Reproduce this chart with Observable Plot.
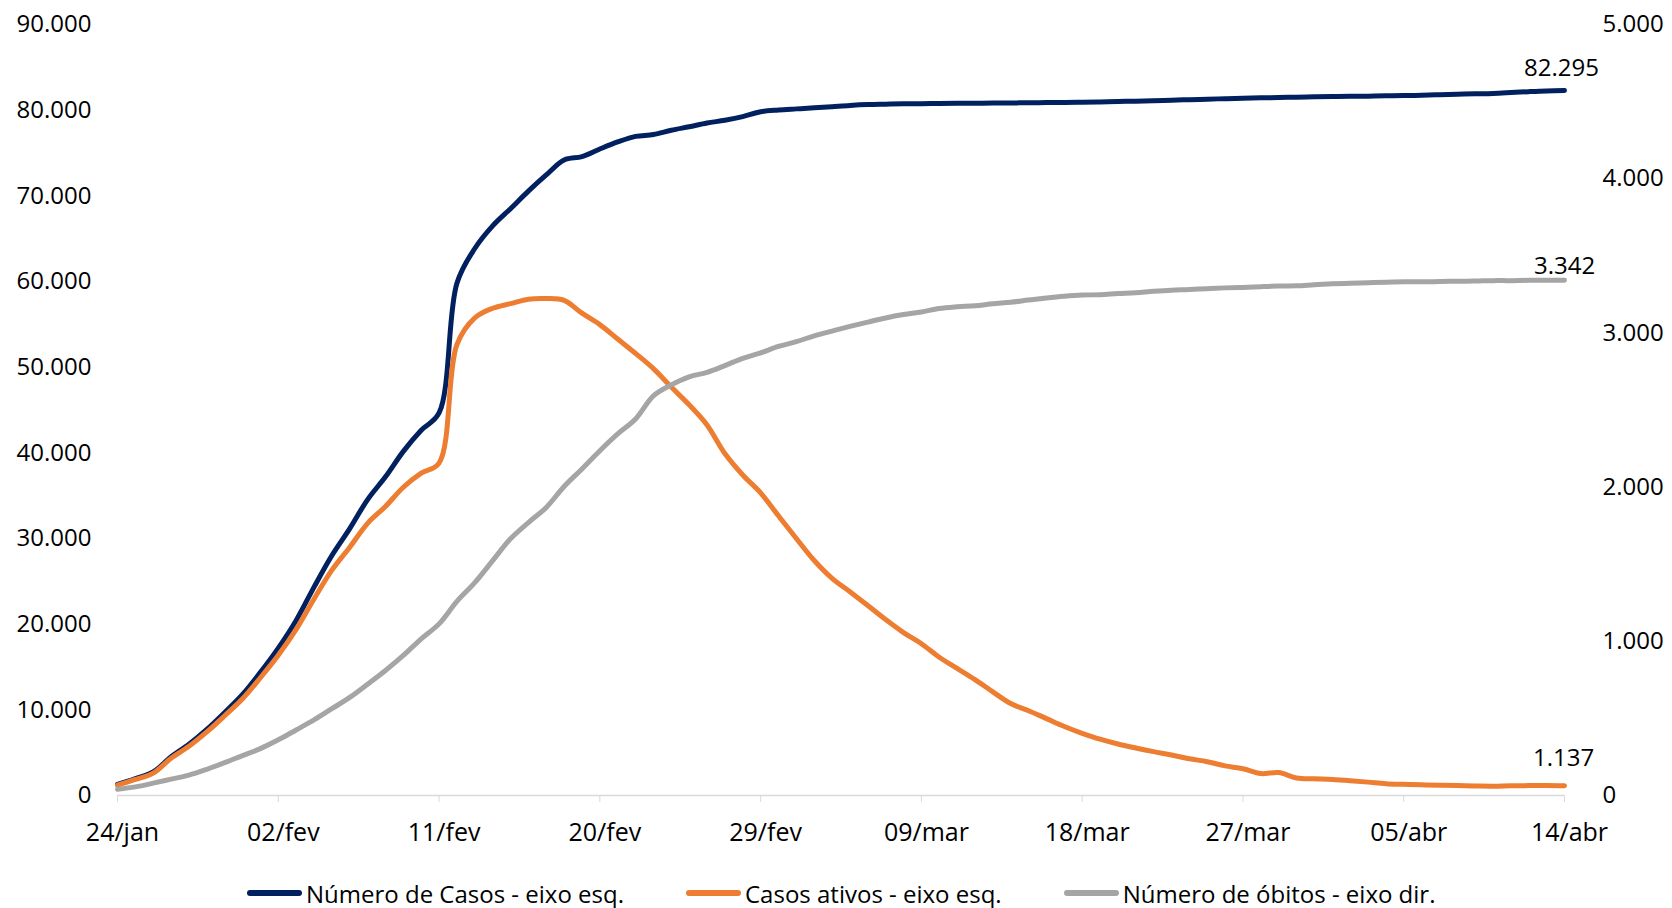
<!DOCTYPE html>
<html>
<head>
<meta charset="utf-8">
<script src="https://cdn.jsdelivr.net/npm/d3@7"></script>
<script src="https://cdn.jsdelivr.net/npm/@observablehq/plot@0.6"></script>
<style>
  body { margin: 0; background: #fff; font-family: "Open Sans", sans-serif; }
  #legend { display: flex; align-items: center; height: 30px; margin-top: 18px; padding-left: 247px; gap: 62px; font-size: 24px; color: #000; }
  .item { display: flex; align-items: center; }
  .sw { width: 55px; height: 6px; border-radius: 3px; margin-right: 4px; }
</style>
</head>
<body>
<div id="chart"></div>
<div id="legend"></div>
<script>
// ---- Data (China, 24/jan – 14/abr) ----
const startDate = "2020-01-24";
const cases = [
  1287,1975,2744,4515,5974,7711,9692,11791,
  14380,17205,20438,24324,28018,31161,34546,37198,40171,42638,44653,59804,63851,66492,68500,70548,72436,74185,74576,75465,76288,76936,77150,77658,78064,78497,78824,79251,79824,
  80026,80151,80270,80409,80552,80651,80695,80735,80754,80778,80793,80813,80824,80844,80860,80881,80894,80928,80967,81008,81054,81093,81171,81218,81285,81340,81394,81439,81470,81518,81554,
  81589,81620,81639,81669,81708,81740,81802,81865,81907,81953,82052,82160,82249,82295
];
const active = [
  1208,1870,2613,4349,5739,7417,9308,11289,
  13748,16369,19381,22942,26302,28985,31774,33738,35982,37626,38800,52634,55748,56873,57416,57934,58016,57805,56303,54965,53284,51606,49824,47672,45604,43258,39919,37414,35329,
  32652,30004,27433,25352,23784,22177,20533,19016,17721,16145,14831,13526,12094,10734,9898,8976,8056,7263,6569,6013,5549,5120,4735,4287,3947,3460,3128,2560,2680,2050,1950,
  1863,1727,1562,1376,1299,1242,1190,1160,1116,1089,1138,1156,1170,1137
];
const deaths = [
  41,56,80,106,132,170,213,259,
  304,361,425,490,563,636,722,811,908,1016,1113,1259,1380,1523,1665,1770,1868,2004,2118,2236,2345,2442,2592,2663,2715,2744,2788,2835,2870,
  2912,2943,2981,3012,3042,3070,3097,3119,3136,3158,3169,3176,3189,3199,3213,3226,3237,3245,3248,3255,3261,3270,3277,3281,3287,3292,3295,3300,3304,3305,3312,
  3318,3322,3326,3329,3331,3331,3333,3335,3336,3339,3339,3341,3341,3342
];
const tickDates = ["2020-01-24","2020-02-02","2020-02-11","2020-02-20","2020-02-29","2020-03-09","2020-03-18","2020-03-27","2020-04-05","2020-04-14"];
const tickLabels = ["24/jan","02/fev","11/fev","20/fev","29/fev","09/mar","18/mar","27/mar","05/abr","14/abr"];
const leftTicks = [0,10000,20000,30000,40000,50000,60000,70000,80000,90000];
const rightTicks = [0,1000,2000,3000,4000,5000];
const seriesNames = ["Número de Casos - eixo esq.","Casos ativos - eixo esq.","Número de óbitos - eixo dir."];
const seriesColors = ["#002060","#ED7D31","#A5A5A5"];

// ---- Build ----
const ratio = 90000 / 5000; // right axis -> left axis
const fmt = d3.formatLocale({decimal: ",", thousands: ".", grouping: [3], currency: ["", ""]}).format(",d");
const start = new Date(startDate + "T00:00:00Z");
const dates = cases.map((_, i) => d3.utcDay.offset(start, i));
const rows = dates.map((d, i) => ({date: d, cases: cases[i], active: active[i], deathsScaled: deaths[i] * ratio, deaths: deaths[i]}));
const last = rows[rows.length - 1];
const tDates = tickDates.map(s => new Date(s + "T00:00:00Z"));
const labelOf = new Map(tDates.map((d, i) => [+d, tickLabels[i]]));

const chart = Plot.plot({
  width: 1672,
  height: 860,
  marginLeft: 117,
  marginRight: 108,
  marginTop: 24,
  marginBottom: 65,
  style: {fontFamily: "Open Sans, sans-serif", fontSize: "24px", color: "#000", background: "#fff"},
  x: {type: "utc", domain: [dates[0], dates[dates.length - 1]]},
  y: {domain: [0, 90000]},
  marks: [
    Plot.ruleY([0], {stroke: "#d9d9d9", strokeWidth: 1.5}),
    Plot.axisX({ticks: tDates, tickFormat: () => "", tickSize: 7, stroke: "#d9d9d9", label: null}),
    Plot.axisX({ticks: tDates, tickFormat: d => labelOf.get(+d), tickSize: 0, tickPadding: 28, fill: "#000", label: null, fontSize: 25, dx: 5}),
    Plot.axisY({anchor: "left", ticks: leftTicks, tickFormat: fmt, tickSize: 0, tickPadding: 26, label: null, fill: "#000"}),
    Plot.axisY({anchor: "right", ticks: rightTicks.map(v => v * ratio), tickFormat: d => fmt(Math.round(d / ratio)), tickSize: 0, tickPadding: 38, label: null, fill: "#000"}),
    Plot.lineY(rows, {x: "date", y: "cases", stroke: seriesColors[0], strokeWidth: 5, curve: "catmull-rom", strokeLinecap: "round", strokeLinejoin: "round"}),
    Plot.lineY(rows, {x: "date", y: "active", stroke: seriesColors[1], strokeWidth: 5, curve: "catmull-rom", strokeLinecap: "round", strokeLinejoin: "round"}),
    Plot.lineY(rows, {x: "date", y: "deathsScaled", stroke: seriesColors[2], strokeWidth: 5, curve: "catmull-rom", strokeLinecap: "round", strokeLinejoin: "round"}),
    Plot.text([last], {x: "date", y: "cases", text: d => fmt(d.cases), dy: -22, dx: -3, fill: "#000"}),
    Plot.text([last], {x: "date", y: "deathsScaled", text: d => fmt(d.deaths), dy: -14, dx: 0, fill: "#000"}),
    Plot.text([last], {x: "date", y: "active", text: d => fmt(d.active), dy: -27, dx: -1, fill: "#000"})
  ]
});
document.getElementById("chart").appendChild(chart);

const legend = document.getElementById("legend");
seriesNames.forEach((name, i) => {
  const item = document.createElement("div");
  item.className = "item";
  const sw = document.createElement("span");
  sw.className = "sw";
  sw.style.background = seriesColors[i];
  const tx = document.createElement("span");
  tx.textContent = name;
  item.appendChild(sw);
  item.appendChild(tx);
  legend.appendChild(item);
});
</script>
</body>
</html>
